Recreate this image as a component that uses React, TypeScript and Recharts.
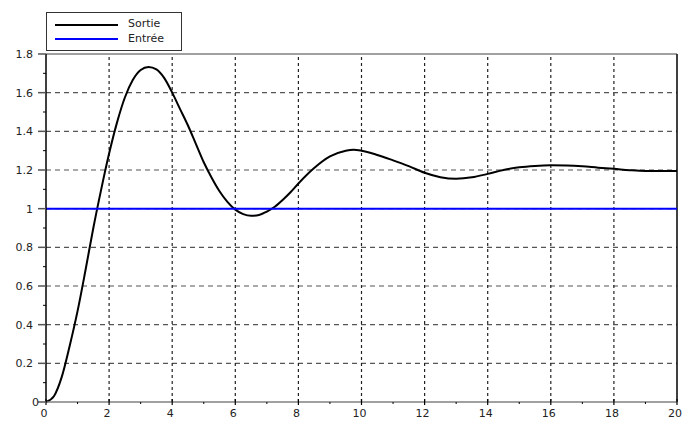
import React from 'react';
import { LineChart, Line, XAxis, YAxis, ReferenceLine } from 'recharts';

// step response
const TIME = [
  0, 0.25, 0.5, 0.75, 1, 1.25, 1.5, 1.75, 2, 2.25, 2.5, 2.75, 3, 3.25, 3.5, 3.75,
  4, 4.25, 4.5, 4.75, 5, 5.25, 5.5, 5.75, 6, 6.25, 6.5, 6.75, 7, 7.25, 7.5, 7.75,
  8, 8.5, 9, 9.5, 9.75, 10, 10.5, 11, 11.5, 12, 12.5, 13, 13.5, 14, 14.5, 15,
  15.5, 16, 16.5, 17, 17.5, 18, 18.5, 19, 19.5, 20,
];
const SORTIE = [
  0, 0.03, 0.13, 0.29, 0.47, 0.68, 0.9, 1.1, 1.285, 1.445, 1.575, 1.665, 1.717, 1.733, 1.72, 1.675,
  1.6, 1.515, 1.43, 1.335, 1.24, 1.16, 1.09, 1.035, 0.995, 0.972, 0.963, 0.967, 0.985, 1.01, 1.045, 1.085,
  1.13, 1.21, 1.27, 1.3, 1.305, 1.3, 1.278, 1.25, 1.22, 1.186, 1.163, 1.155, 1.162, 1.18, 1.2, 1.214,
  1.221, 1.224, 1.223, 1.219, 1.212, 1.206, 1.199, 1.195, 1.195, 1.195,
];
const ENTREE_T = [0, 20];
const ENTREE_V = [1, 1];

const X_TICKS = [0, 1, 2, 3, 4, 5, 6, 7, 8, 9, 10, 11, 12, 13, 14, 15, 16, 17, 18, 19, 20];
const Y_TICKS = [0, 0.1, 0.2, 0.3, 0.4, 0.5, 0.6, 0.7, 0.8, 0.9, 1, 1.1, 1.2, 1.3, 1.4, 1.5, 1.6, 1.7, 1.8];
const X_GRID = [2, 4, 6, 8, 10, 12, 14, 16, 18];
const Y_GRID = [0.2, 0.4, 0.6, 0.8, 1, 1.2, 1.4, 1.6];

const sortieData = TIME.map((t, i) => ({ t, s: SORTIE[i] }));
const entreeData = ENTREE_T.map((t, i) => ({ t, e: ENTREE_V[i] }));

const FONT = 'DejaVu Sans, sans-serif';
const PLOT_LEFT = 46;
const PLOT_BOTTOM = 402;

const YTick = (props: any) => {
  const { y, payload } = props;
  const v = payload.value;
  const major = Math.round(v * 10) % 2 === 0;
  if (!major) {
    return <line x1={PLOT_LEFT - 3} x2={PLOT_LEFT} y1={y} y2={y} stroke="#000" strokeWidth={1} />;
  }
  return (
    <g>
      <line x1={PLOT_LEFT - 8} x2={PLOT_LEFT} y1={y} y2={y} stroke="#555" strokeWidth={1.5} />
      <text x={v === 0 ? 39 : 33} y={y} dy={4} textAnchor="end" fontSize={11} fill="#222" fontFamily={FONT}>
        {String(v)}
      </text>
    </g>
  );
};

const XTick = (props: any) => {
  const { x, payload } = props;
  const v = payload.value;
  if (v % 2 === 1) {
    return <line x1={x} x2={x} y1={PLOT_BOTTOM} y2={PLOT_BOTTOM + 2} stroke="#000" strokeWidth={1} />;
  }
  return (
    <g>
      <line x1={x} x2={x} y1={PLOT_BOTTOM - 3} y2={PLOT_BOTTOM + 3} stroke="#000" strokeWidth={1.2} />
      <text x={x - 2} y={PLOT_BOTTOM + 15} textAnchor="middle" fontSize={11} fill="#222" fontFamily={FONT}>
        {String(v)}
      </text>
    </g>
  );
};

export default function App() {
  return (
    <div style={{ position: 'absolute', left: 0, top: 0, width: 693, height: 422, background: '#fff' }}>
      <LineChart width={693} height={422} data={sortieData} margin={{ top: 54, right: 16, bottom: 0, left: 0 }}>
        <XAxis
          dataKey="t"
          type="number"
          domain={[0, 20]}
          ticks={X_TICKS}
          interval={0}
          height={20}
          axisLine={{ stroke: '#808080', strokeWidth: 1.5 }}
          tickLine={false}
          tick={<XTick />}
        />
        <YAxis
          type="number"
          domain={[0, 1.8]}
          ticks={Y_TICKS}
          interval={0}
          width={46}
          axisLine={{ stroke: '#000', strokeWidth: 1.5 }}
          tickLine={false}
          tick={<YTick />}
        />
        {Y_GRID.map((v) => (
          <ReferenceLine key={'h' + v} y={v} stroke="#555" strokeDasharray="5 4" strokeWidth={1.2} />
        ))}
        {X_GRID.map((v) => (
          <ReferenceLine key={'v' + v} x={v} stroke="#222" strokeDasharray="3 3" strokeWidth={1.2} />
        ))}
        <ReferenceLine y={1.8} stroke="#808080" strokeWidth={1.5} />
        <ReferenceLine x={20} stroke="#000" strokeWidth={1.5} />
        <Line dataKey="s" type="monotone" stroke="#000" strokeWidth={2} dot={false} isAnimationActive={false} />
        <Line data={entreeData} dataKey="e" type="linear" stroke="#0000ff" strokeWidth={2} dot={false} isAnimationActive={false} />
      </LineChart>
      <div
        style={{
          position: 'absolute',
          left: 46,
          top: 12,
          width: 134,
          height: 37,
          border: '1px solid #333',
          background: '#fff',
          fontFamily: FONT,
          fontSize: 11,
          color: '#222',
        }}
      >
        <div style={{ position: 'absolute', left: 8, top: 11, width: 63, height: 2, background: '#000' }} />
        <div style={{ position: 'absolute', left: 81, top: 4 }}>Sortie</div>
        <div style={{ position: 'absolute', left: 8, top: 25, width: 63, height: 2, background: '#0000ff' }} />
        <div style={{ position: 'absolute', left: 81, top: 19 }}>Entrée</div>
      </div>
    </div>
  );
}
